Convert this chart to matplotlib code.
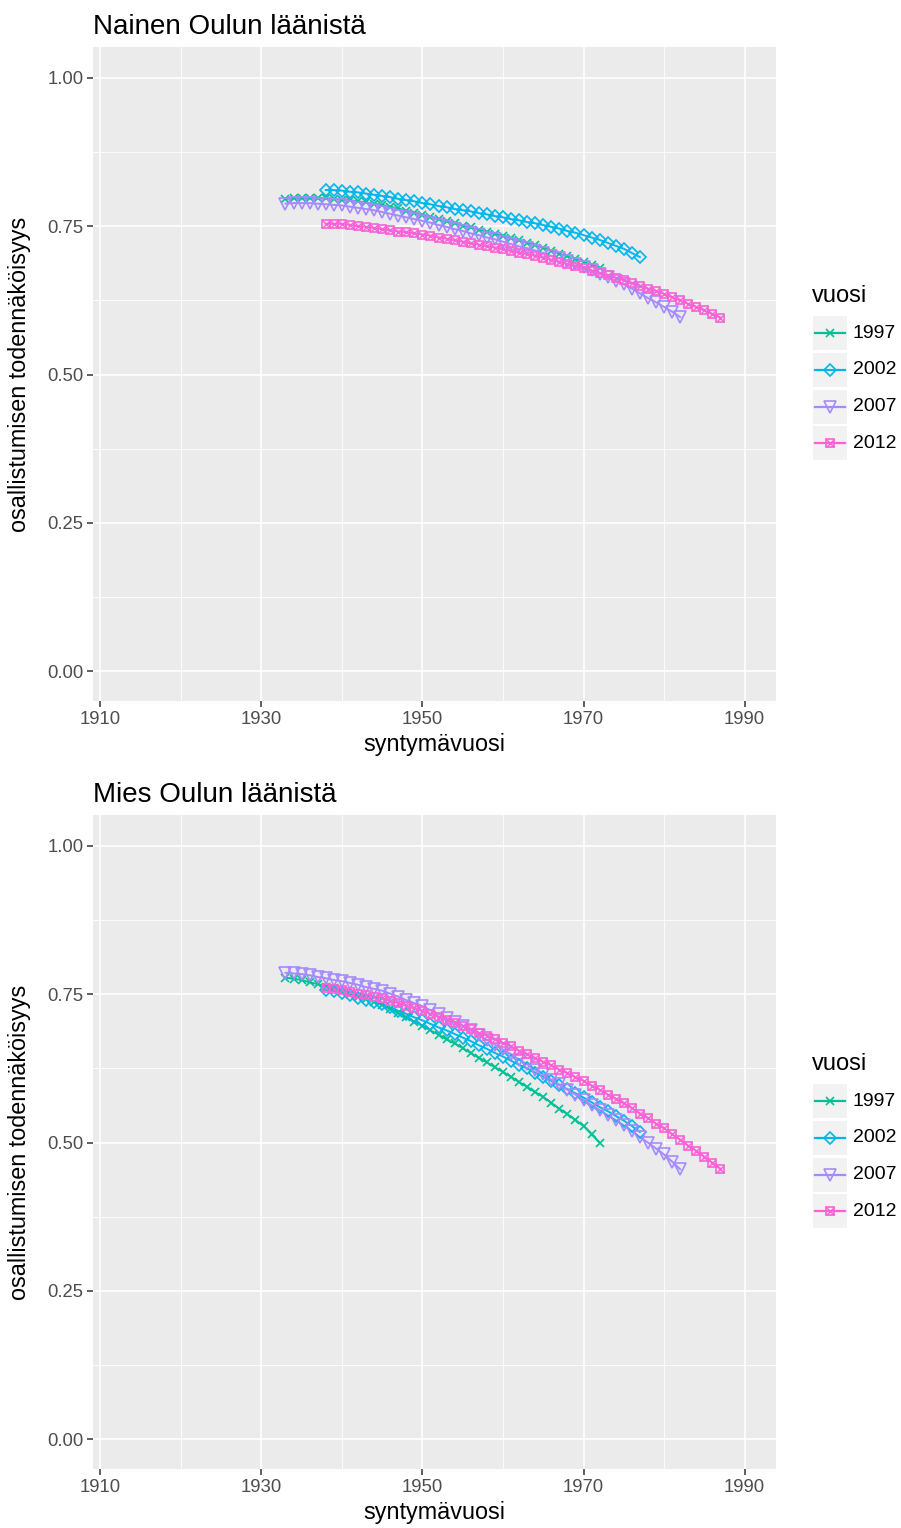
import matplotlib
matplotlib.use("Agg")
import matplotlib.pyplot as plt
from matplotlib.lines import Line2D
from matplotlib.patches import Rectangle

plt.rcParams['font.family'] = ['Liberation Sans', 'DejaVu Sans']

# ---------------- data ----------------
years_label = ["1997", "2002", "2007", "2012"]
start_years = [1933, 1938, 1933, 1938]

women_1997 = [0.796, 0.797, 0.797, 0.797, 0.797, 0.797, 0.796, 0.795, 0.794, 0.792,
              0.790, 0.788, 0.786, 0.783, 0.780, 0.776, 0.773, 0.769, 0.766, 0.762,
              0.758, 0.755, 0.751, 0.748, 0.744, 0.741, 0.737, 0.734, 0.730, 0.726,
              0.722, 0.718, 0.714, 0.709, 0.704, 0.699, 0.695, 0.690, 0.685, 0.680]
women_2002 = [0.811, 0.811, 0.810, 0.808, 0.807, 0.805, 0.803, 0.801, 0.799, 0.796,
              0.794, 0.792, 0.789, 0.787, 0.784, 0.782, 0.779, 0.777, 0.775, 0.772,
              0.770, 0.767, 0.765, 0.762, 0.760, 0.757, 0.755, 0.752, 0.749, 0.746,
              0.742, 0.739, 0.735, 0.731, 0.727, 0.722, 0.717, 0.712, 0.705, 0.698]
women_2007 = [0.788, 0.789, 0.789, 0.789, 0.788, 0.787, 0.786, 0.785, 0.783, 0.781,
              0.779, 0.777, 0.774, 0.771, 0.768, 0.765, 0.762, 0.759, 0.756, 0.752,
              0.749, 0.745, 0.742, 0.738, 0.735, 0.731, 0.728, 0.724, 0.720, 0.716,
              0.713, 0.709, 0.705, 0.700, 0.696, 0.691, 0.687, 0.682, 0.676, 0.670,
              0.664, 0.658, 0.652, 0.645, 0.637, 0.629, 0.622, 0.614, 0.606, 0.597]
women_2012 = [0.754, 0.754, 0.754, 0.752, 0.750, 0.749, 0.747, 0.745, 0.743, 0.741,
              0.740, 0.738, 0.736, 0.734, 0.731, 0.729, 0.726, 0.724, 0.721, 0.719,
              0.716, 0.714, 0.711, 0.708, 0.705, 0.703, 0.700, 0.697, 0.693, 0.690,
              0.686, 0.683, 0.679, 0.675, 0.671, 0.667, 0.663, 0.659, 0.654, 0.650,
              0.645, 0.641, 0.636, 0.630, 0.625, 0.619, 0.614, 0.608, 0.602, 0.596]

men_1997 = [0.778, 0.776, 0.774, 0.770, 0.767, 0.763, 0.760, 0.756, 0.751, 0.746,
            0.742, 0.737, 0.732, 0.725, 0.718, 0.711, 0.704, 0.697, 0.689, 0.682,
            0.674, 0.667, 0.659, 0.651, 0.643, 0.635, 0.627, 0.619, 0.611, 0.602,
            0.594, 0.585, 0.577, 0.567, 0.557, 0.548, 0.538, 0.528, 0.514, 0.500]
men_2002 = [0.757, 0.755, 0.752, 0.748, 0.744, 0.741, 0.737, 0.733, 0.728, 0.722,
            0.717, 0.711, 0.706, 0.700, 0.694, 0.689, 0.683, 0.677, 0.671, 0.664,
            0.658, 0.651, 0.645, 0.638, 0.631, 0.625, 0.618, 0.611, 0.604, 0.597,
            0.590, 0.583, 0.576, 0.568, 0.560, 0.553, 0.545, 0.537, 0.528, 0.518]
men_2007 = [0.786, 0.785, 0.784, 0.782, 0.779, 0.777, 0.774, 0.772, 0.769, 0.766,
            0.762, 0.759, 0.756, 0.751, 0.746, 0.740, 0.735, 0.730, 0.723, 0.717,
            0.710, 0.704, 0.697, 0.689, 0.681, 0.673, 0.665, 0.657, 0.649, 0.640,
            0.632, 0.623, 0.615, 0.606, 0.598, 0.589, 0.581, 0.572, 0.563, 0.555,
            0.546, 0.538, 0.529, 0.519, 0.509, 0.500, 0.490, 0.480, 0.468, 0.455]
men_2012 = [0.760, 0.759, 0.757, 0.754, 0.751, 0.749, 0.746, 0.743, 0.739, 0.735,
            0.730, 0.726, 0.722, 0.717, 0.712, 0.707, 0.702, 0.697, 0.691, 0.685,
            0.680, 0.674, 0.668, 0.662, 0.655, 0.649, 0.642, 0.636, 0.630, 0.623,
            0.617, 0.610, 0.604, 0.596, 0.589, 0.581, 0.574, 0.566, 0.558, 0.549,
            0.541, 0.532, 0.524, 0.514, 0.505, 0.495, 0.486, 0.476, 0.466, 0.456]

titles = ["Nainen Oulun läänistä", "Mies Oulun läänistä"]
x_ticks = [1910, 1930, 1950, 1970, 1990]
y_ticks = [0.00, 0.25, 0.50, 0.75, 1.00]
y_tick_labels = ["0.00", "0.25", "0.50", "0.75", "1.00"]

# ---------------- style ----------------
colors = ["#00C094", "#00B6EB", "#A58AFF", "#FB61D7"]
W, H = 901, 1528
fig = plt.figure(figsize=(W / 100, H / 100), dpi=100)

def fx(px):
    return px / W

def fy(py):
    return 1 - py / H

panel_left, panel_right = 93, 776
panels = [(47, 701), (815, 1469)]
datasets = [[women_1997, women_2002, women_2007, women_2012],
            [men_1997, men_2002, men_2007, men_2012]]

MS = {0: 6.4, 1: 6.6, 2: 8.0, 3: 6.0}


def draw_series(ax, xs, ys, i):
    c = colors[i]
    ax.plot(xs, ys, color=c, lw=1.4, zorder=3)
    if i == 0:
        ax.plot(xs, ys, ls='none', marker='x', ms=MS[0], mew=1.2, color=c, zorder=4)
    elif i == 1:
        ax.plot(xs, ys, ls='none', marker='D', ms=MS[1], mew=1.2, mfc='none', mec=c, zorder=4)
    elif i == 2:
        ax.plot(xs, ys, ls='none', marker='v', ms=MS[2], mew=1.2, mfc='none', mec=c, zorder=4)
    else:
        ax.plot(xs, ys, ls='none', marker='s', ms=MS[3], mew=1.2, mfc='none', mec=c, zorder=4)
        ax.plot(xs, ys, ls='none', marker='x', ms=MS[3], mew=1.0, color=c, zorder=4)


for p, (top, bot) in enumerate(panels):
    ph = bot - top
    ax = fig.add_axes([fx(panel_left), fy(bot), fx(panel_right - panel_left), ph / H])
    ax.set_facecolor("#EBEBEB")
    for s in ax.spines.values():
        s.set_visible(False)
    ax.set_xlim(1909.1, 1993.9)
    ax.set_ylim(-0.05, 1.052)
    ax.set_xticks(x_ticks)
    ax.set_xticks([1920, 1940, 1960, 1980], minor=True)
    ax.set_yticks(y_ticks)
    ax.set_yticklabels(y_tick_labels)
    ax.set_yticks([0.125, 0.375, 0.625, 0.875], minor=True)
    ax.grid(which='major', color='white', lw=1.2, zorder=0)
    ax.grid(which='minor', color='white', lw=0.6, zorder=0)
    ax.set_axisbelow(True)
    ax.tick_params(which='major', length=4, width=1.1, color='#333333',
                   labelsize=13.3, labelcolor='#4D4D4D', pad=3)
    ax.tick_params(which='minor', length=0)
    ax.set_xlabel("syntymävuosi", fontsize=16.8, color='black')
    ax.xaxis.set_label_coords(0.5, -44 / ph)
    ax.set_ylabel("osallistumisen todennäköisyys", fontsize=16.8, color='black')
    ax.yaxis.set_label_coords((20 - panel_left) / (panel_right - panel_left), 0.5)
    ax.xaxis.label.set_va('center')
    ax.yaxis.label.set_va('center')
    ax.set_title(titles[p], loc='left', fontsize=20, color='black', pad=9)

    for i, ys in enumerate(datasets[p]):
        xs = list(range(start_years[i], start_years[i] + len(ys)))
        draw_series(ax, xs, ys, i)

    # legend (drawn manually in figure coordinates)
    leg_title_y = top + 249
    fig.text(fx(812), fy(leg_title_y), "vuosi", fontsize=17, ha='left', va='center')
    for i, lab in enumerate(years_label):
        cy = leg_title_y + 37 + i * 36.8
        fig.patches.append(Rectangle((fx(813), fy(cy + 17)), fx(34), 34 / H,
                                     transform=fig.transFigure, facecolor='#F2F2F2',
                                     edgecolor='none'))
        fig.lines.append(Line2D([fx(815), fx(845)], [fy(cy), fy(cy)], transform=fig.transFigure,
                                color=colors[i], lw=1.6))
        mk = ['x', 'D', 'v', 's'][i]
        fig.lines.append(Line2D([fx(830)], [fy(cy)], transform=fig.transFigure,
                                marker=mk, ms=MS[i], mew=1.2, ls='none',
                                color=colors[i], mfc='none' if i else colors[i], mec=colors[i]))
        if i == 3:
            fig.lines.append(Line2D([fx(830)], [fy(cy)], transform=fig.transFigure,
                                    marker='x', ms=MS[3], mew=1.0, ls='none', color=colors[i]))
        fig.text(fx(853), fy(cy), lab, fontsize=14, ha='left', va='center')

fig.savefig("out.png", dpi=100)
